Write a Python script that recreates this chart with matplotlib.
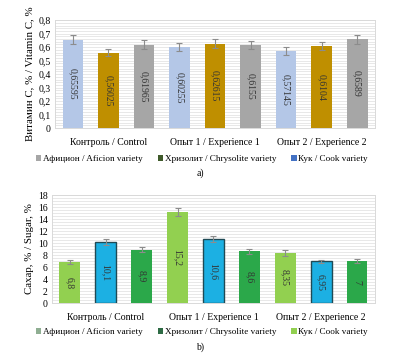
import matplotlib
matplotlib.use("Agg")
import matplotlib.pyplot as plt
from matplotlib.patches import Patch
from matplotlib.ticker import MultipleLocator, FuncFormatter

plt.rcParams['font.family'] = ['Liberation Serif', 'DejaVu Serif']

groups = ["Контроль / Control", "Опыт 1 / Experience 1", "Опыт 2 / Experience 2"]
legend_labels = ["Афицион / Aficion variety", "Хризолит / Chrysolite variety", "Кук / Cook variety"]

vitc = [0.65595, 0.56025, 0.61965, 0.60255, 0.62615, 0.6155, 0.57145, 0.6104, 0.6589]
vitc_err = [0.034, 0.028, 0.032, 0.030, 0.032, 0.030, 0.029, 0.030, 0.033]
vitc_lbl = ["0,65595", "0,56025", "0,61965", "0,60255", "0,62615", "0,6155", "0,57145", "0,6104", "0,6589"]

sugar = [6.8, 10.1, 8.9, 15.2, 10.6, 8.6, 8.35, 6.95, 7.0]
sugar_err = [0.35, 0.5, 0.45, 0.7, 0.5, 0.4, 0.45, 0.3, 0.3]
sugar_lbl = ["6,8", "10,1", "8,9", "15,2", "10,6", "8,6", "8,35", "6,95", "7"]

top_colors = ["#b4c7e7", "#bf8f00", "#a6a6a6"]
top_leg_colors = ["#a6a6a6", "#3f5a2a", "#4472c4"]
bot_colors = ["#92d050", "#1cb0e3", "#2ba84a"]
bot_edges = ["none", "#1f4a55", "none"]
bot_leg_colors = ["#8fae92", "#2e6b45", "#92d050"]

fig = plt.figure(figsize=(3.96, 3.54), dpi=100)
ax1 = fig.add_axes([0.139, 0.638, 0.808, 0.305])
ax2 = fig.add_axes([0.131, 0.144, 0.816, 0.305])

comma = FuncFormatter(lambda v, p: ("%g" % v).replace(".", ","))

def draw(ax, vals, errs, lbls, colors, edges, ymax, major, minor, fs_lbl):
    for i, v in enumerate(vals):
        c = colors[i % 3]
        e = edges[i % 3]
        ax.bar(i, v, width=0.58, color=c, edgecolor=e if e != "none" else c,
               linewidth=1.0 if e != "none" else 0, zorder=3)
        ax.errorbar(i, v, yerr=errs[i], fmt="none", ecolor="#8c8c8c",
                    elinewidth=0.8, capsize=2.5, capthick=0.8, zorder=4)
        ax.text(i, v / 2, lbls[i], rotation=270, ha="center", va="center",
                fontsize=fs_lbl, color="#333333", zorder=5)
    ax.set_xlim(-0.5, len(vals) - 0.5)
    ax.set_ylim(0, ymax)
    ax.yaxis.set_major_locator(MultipleLocator(major))
    ax.yaxis.set_minor_locator(MultipleLocator(minor))
    ax.yaxis.set_major_formatter(comma)
    ax.grid(axis="y", which="both", color="#e4e4e4", linewidth=0.6, zorder=0)
    ax.set_xticks([1, 4, 7])
    ax.set_xticklabels(groups, fontsize=7)
    ax.tick_params(axis="x", length=0, pad=7)
    ax.tick_params(axis="y", which="both", length=0, labelsize=7, pad=3)
    for s in ["top", "right", "left", "bottom"]:
        ax.spines[s].set_color("#d9d9d9")
        ax.spines[s].set_linewidth(0.7)

draw(ax1, vitc, vitc_err, vitc_lbl, top_colors, ["none"] * 3, 0.8, 0.1, 0.02, 7)
ax1.set_ylabel("Витамин С, % / Vitamin C, %", fontsize=7.8, labelpad=3)
draw(ax2, sugar, sugar_err, sugar_lbl, bot_colors, bot_edges, 18, 2, 0.5, 7)
ax2.set_ylabel("Сахар, % / Sugar, %", fontsize=7.8, labelpad=3)

def legend(colors, y):
    handles = [Patch(facecolor=c, edgecolor="none") for c in colors]
    fig.legend(handles, legend_labels, loc="center", bbox_to_anchor=(0.51, y),
               ncol=3, frameon=False, fontsize=6.6, handlelength=0.6, handleheight=0.6,
               handletextpad=0.2, columnspacing=1.6, borderpad=0, borderaxespad=0)

legend(top_leg_colors, 1 - 159 / 354)
legend(bot_leg_colors, 1 - 332 / 354)
fig.text(0.505, 1 - 173 / 354, "a)", ha="center", va="center", fontsize=7)
fig.text(0.505, 1 - 347 / 354, "b)", ha="center", va="center", fontsize=7)

fig.savefig("out.png", dpi=100)
